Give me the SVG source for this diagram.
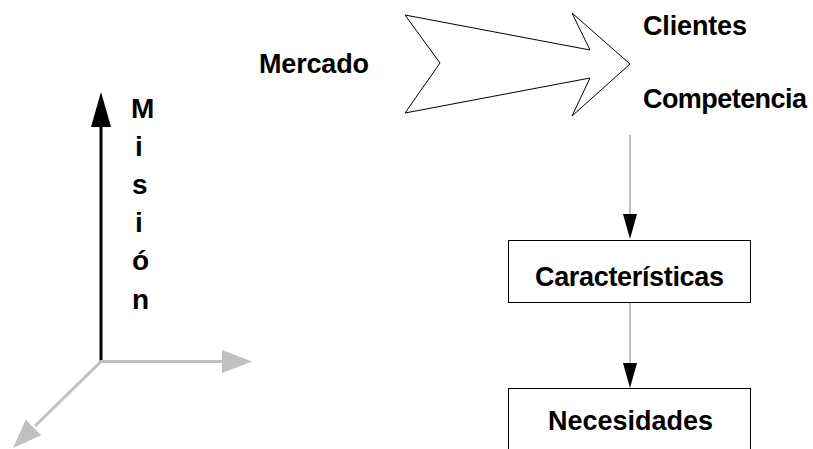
<svg xmlns="http://www.w3.org/2000/svg" width="813" height="449" viewBox="0 0 813 449">
<style>
  .lbl { font-family: "Liberation Sans", Arial, sans-serif; font-weight: bold; font-size: 27px; fill: #000; }
  .mid { text-anchor: middle; }
  .box { fill: #fff; stroke: #000; stroke-width: 1; }
  .conn { stroke: #808080; stroke-width: 1; fill: none; }
  .head { fill: #000; stroke: none; }
  .gray { stroke: #c0c0c0; stroke-width: 3; fill: none; }
  .grayhead { fill: #c0c0c0; stroke: none; }
</style>
<rect x="0" y="0" width="813" height="449" fill="#fff"/>

<g id="mercado">
  <text class="lbl" x="259" y="73" textLength="110" lengthAdjust="spacing">Mercado</text>
</g>

<g id="big-arrow">
  <polygon points="405,15 590,50 572,13 630,64 572,116 590,78 405,113 440,63" fill="#fff" stroke="#000" stroke-width="1" stroke-linejoin="miter"/>
</g>

<g id="clientes">
  <text class="lbl" x="643" y="35" textLength="104" lengthAdjust="spacing">Clientes</text>
</g>
<g id="competencia">
  <text class="lbl" x="643" y="108" textLength="164" lengthAdjust="spacing">Competencia</text>
</g>

<g id="caracteristicas">
  <rect class="box" x="508.5" y="240.5" width="242" height="62"/>
  <text class="lbl" x="535" y="286" textLength="189" lengthAdjust="spacing">Características</text>
</g>

<g id="necesidades">
  <rect class="box" x="508.5" y="388.5" width="242" height="100"/>
  <text class="lbl" x="548" y="430" textLength="165" lengthAdjust="spacing">Necesidades</text>
</g>

<g id="connectors">
  <line class="conn" x1="630" y1="135" x2="630" y2="216"/>
  <polygon class="head" points="623,214 637,214 630,239"/>
  <line class="conn" x1="630" y1="303" x2="630" y2="365"/>
  <polygon class="head" points="623,363 637,363 630,388"/>
</g>

<g id="axes">
  <line x1="101" y1="361" x2="101" y2="125" stroke="#000" stroke-width="3"/>
  <polygon class="head" points="101,92 91,127 111,127"/>
  <line class="gray" x1="100" y1="361.5" x2="224" y2="361.5"/>
  <polygon class="grayhead" points="222,350 252,361.5 222,373"/>
  <line class="gray" x1="101" y1="361.5" x2="35" y2="426"/>
  <polygon class="grayhead" points="25.7,419.7 13,448 41.3,435.3"/>
</g>

<g id="mision" style="font-size:28px">
  <text class="lbl" x="131" y="118" style="font-size:28px">M</text>
  <text class="lbl" x="135" y="156" style="font-size:28px">i</text>
  <text class="lbl" x="132" y="194" style="font-size:28px">s</text>
  <text class="lbl" x="135" y="232" style="font-size:28px">i</text>
  <text class="lbl" x="132" y="270" style="font-size:28px">ó</text>
  <text class="lbl" x="132" y="309" style="font-size:28px">n</text>
</g>
</svg>
